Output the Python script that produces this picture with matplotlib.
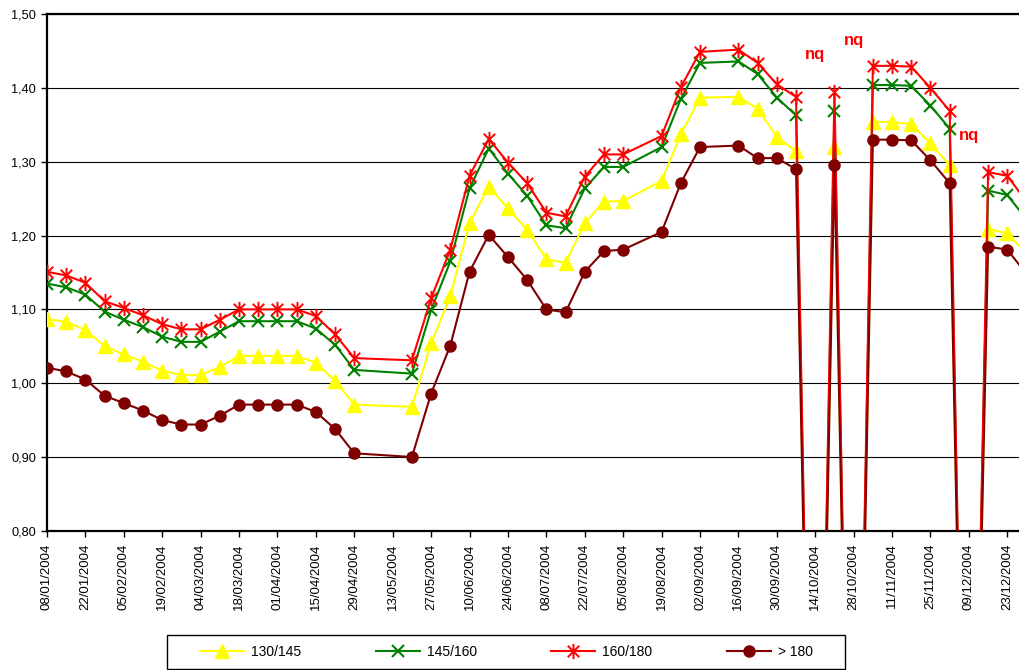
import matplotlib
matplotlib.use("Agg")
import matplotlib.pyplot as plt
from matplotlib.path import Path
from matplotlib.patches import Rectangle
from matplotlib.ticker import FuncFormatter, FixedLocator
import numpy as np

plt.rcParams['font.family'] = ['Liberation Sans', 'DejaVu Sans']

# Weekly quotations, 08/01/2004 .. 30/12/2004 (None = no quotation, 0 = "nq")
tick_labels = ["08/01/2004", "22/01/2004", "05/02/2004", "19/02/2004", "04/03/2004",
               "18/03/2004", "01/04/2004", "15/04/2004", "29/04/2004", "13/05/2004",
               "27/05/2004", "10/06/2004", "24/06/2004", "08/07/2004", "22/07/2004",
               "05/08/2004", "19/08/2004", "02/09/2004", "16/09/2004", "30/09/2004",
               "14/10/2004", "28/10/2004", "11/11/2004", "25/11/2004", "09/12/2004",
               "23/12/2004"]

s130_145 = [1.087, 1.083, 1.072, 1.050, 1.039, 1.029, 1.017, 1.011, 1.011, 1.022,
            1.037, 1.037, 1.037, 1.037, 1.028, 1.003, 0.971, None, None, 0.968,
            1.054, 1.118, 1.217, 1.266, 1.237, 1.208, 1.168, 1.163, 1.217, 1.246,
            1.247, None, 1.274, 1.337, 1.387, None, 1.388, 1.372, 1.334, 1.314,
            0, 1.320, 0, 1.354, 1.354, 1.351, 1.325, 1.295, 0, 1.209,
            1.203, 1.175]

s145_160 = [1.135, 1.130, 1.120, 1.097, 1.086, 1.076, 1.063, 1.056, 1.056, 1.070,
            1.084, 1.084, 1.084, 1.084, 1.074, 1.052, 1.018, None, None, 1.013,
            1.099, 1.165, 1.264, 1.318, 1.284, 1.254, 1.214, 1.210, 1.264, 1.293,
            1.293, None, 1.320, 1.385, 1.434, None, 1.436, 1.419, 1.387, 1.363,
            0, 1.369, 0, 1.404, 1.404, 1.403, 1.376, 1.345, 0, 1.261,
            1.255, 1.222]

s160_180 = [1.151, 1.146, 1.136, 1.111, 1.102, 1.092, 1.080, 1.073, 1.073, 1.086,
            1.100, 1.100, 1.100, 1.100, 1.091, 1.066, 1.034, None, None, 1.031,
            1.115, 1.181, 1.281, 1.331, 1.299, 1.271, 1.231, 1.226, 1.280, 1.310,
            1.310, None, 1.335, 1.401, 1.449, None, 1.452, 1.434, 1.405, 1.388,
            0, 1.395, 0, 1.430, 1.430, 1.429, 1.400, 1.369, 0, 1.286,
            1.281, 1.246]

s180 = [1.021, 1.016, 1.005, 0.983, 0.973, 0.963, 0.950, 0.944, 0.944, 0.956,
        0.971, 0.971, 0.971, 0.971, 0.961, 0.938, 0.905, None, None, 0.900,
        0.986, 1.051, 1.151, 1.201, 1.171, 1.140, 1.100, 1.096, 1.151, 1.179,
        1.181, None, 1.205, 1.271, 1.320, None, 1.322, 1.305, 1.305, 1.290,
        0, 1.296, 0, 1.330, 1.330, 1.329, 1.302, 1.271, 0, 1.185,
        1.181, 1.148]

series_names = ["130/145", "145/160", "160/180", "> 180"]
nq_weeks = [40, 42, 48]
nq_heights = [1.445, 1.465, 1.335]

W, H = 1020, 670
fig = plt.figure(figsize=(W / 100, H / 100), dpi=100)
left_px, right_px, top_px, bot_px = 47, 1020, 14.2, 530.8
ax = fig.add_axes([left_px / W, (H - bot_px) / H, (right_px - left_px) / W, (bot_px - top_px) / H])

step = 19.206
ax.set_xlim(0, (right_px - left_px) / step)
ax.set_ylim(0.80, 1.50)

star = Path([(0, -1), (0, 1), (-0.75, -0.75), (0.75, 0.75), (-0.75, 0.75), (0.75, -0.75)],
            [Path.MOVETO, Path.LINETO, Path.MOVETO, Path.LINETO, Path.MOVETO, Path.LINETO])

styles = [
    dict(color='#FFFF00', marker='^', ms=9.5, mfc='#FFFF00', mec='#FFFF00'),
    dict(color='#008000', marker='x', ms=8, mew=1.5),
    dict(color='#FF0000', marker=star, ms=11, mew=1.4, mfc='none'),
    dict(color='#800000', marker='o', ms=8, mfc='#800000', mec='#800000'),
]

handles = []
for z, (vals, name, st) in enumerate(zip([s130_145, s145_160, s160_180, s180], series_names, styles)):
    xs = [i for i, v in enumerate(vals) if v is not None]
    ys = [v for v in vals if v is not None]
    h, = ax.plot(xs, ys, lw=1.5, label=name, zorder=3 + z, **st)
    handles.append(h)

for w, hgt in zip(nq_weeks, nq_heights):
    ax.text(w, hgt, "nq", color='#FF0000', fontweight='bold', fontsize=12,
            ha='center', va='center', zorder=10)

ax.yaxis.set_major_locator(FixedLocator(np.arange(0.8, 1.501, 0.1)))
ax.yaxis.set_major_formatter(FuncFormatter(lambda v, p: f"{v:.2f}".replace('.', ',')))
ax.yaxis.grid(True, color='black', lw=0.8, zorder=1)
ax.set_axisbelow(True)

ax.set_xticks(np.arange(0, 52, 2))
ax.set_xticklabels(tick_labels, rotation=90, fontsize=9.5)

ax.tick_params(axis='y', direction='out', length=4, width=1, pad=4, labelsize=9.2)
ax.tick_params(axis='x', direction='out', length=4, width=1, pad=5)

for s in ['left', 'bottom', 'top']:
    ax.spines[s].set_linewidth(1.6)
    ax.spines[s].set_color('black')
ax.spines['right'].set_visible(False)

fig.patches.append(Rectangle((167 / W, 1 / H), (845 - 167) / W, (669 - 635) / H,
                             transform=fig.transFigure, fill=False, edgecolor='black',
                             lw=1.0))
yc = 1 - 652 / H
fig.legend(handles=handles, labels=series_names, loc='center',
           bbox_to_anchor=(200 / W, yc - 0.01, 613 / W, 0.02), mode='expand', ncol=4,
           frameon=False, fontsize=10, handlelength=3.17, handletextpad=0.5,
           borderpad=0, borderaxespad=0, numpoints=1)

fig.savefig("out.png", dpi=100, facecolor='white')
